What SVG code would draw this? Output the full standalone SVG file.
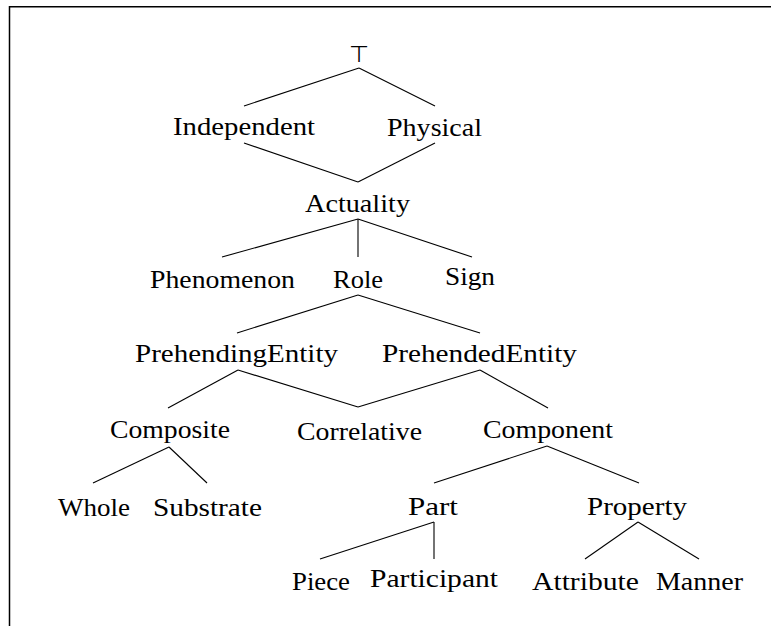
<svg xmlns="http://www.w3.org/2000/svg" width="771" height="626" viewBox="0 0 771 626">
<style>
.t{font-family:"Liberation Serif","DejaVu Serif",serif;font-size:25px;fill:#000;text-anchor:middle}
.c line{stroke:#000;stroke-width:1.1;fill:none}
.frame{stroke:#000;stroke-width:1.5;fill:none}
</style>
<rect width="771" height="626" fill="#fff"/>
<path class="frame" d="M9.5,626 V6.7 H771"/>
<g class="c" id="connectors">
<line x1="359" y1="68" x2="244" y2="106"/>
<line x1="359" y1="68" x2="435" y2="106"/>
<line x1="244" y1="143" x2="358" y2="182"/>
<line x1="435" y1="143" x2="358" y2="182"/>
<line x1="358" y1="219" x2="222" y2="257"/>
<line x1="358" y1="219" x2="358" y2="257"/>
<line x1="358" y1="219" x2="472" y2="257"/>
<line x1="358" y1="295" x2="237" y2="333"/>
<line x1="358" y1="295" x2="480" y2="333"/>
<line x1="238" y1="370" x2="168" y2="408"/>
<line x1="238" y1="370" x2="358" y2="407"/>
<line x1="480" y1="370" x2="358" y2="407"/>
<line x1="480" y1="370" x2="548" y2="408"/>
<line x1="169" y1="447" x2="93" y2="483"/>
<line x1="169" y1="447" x2="207" y2="483"/>
<line x1="547" y1="446" x2="434" y2="483"/>
<line x1="547" y1="446" x2="639" y2="483"/>
<line x1="434" y1="522" x2="320" y2="559"/>
<line x1="434" y1="522" x2="434" y2="559"/>
<line x1="638" y1="522" x2="585" y2="559"/>
<line x1="638" y1="522" x2="699" y2="559"/>
</g>
<g id="top"><text x="359" y="62" font-family="DejaVu Sans, sans-serif" font-size="23" text-anchor="middle">⊤</text></g>
<g id="independent"><text class="t" x="244" y="135" textLength="142" lengthAdjust="spacingAndGlyphs">Independent</text></g>
<g id="physical"><text class="t" x="434.5" y="136" textLength="95" lengthAdjust="spacingAndGlyphs">Physical</text></g>
<g id="actuality"><text class="t" x="357.5" y="212" textLength="105" lengthAdjust="spacingAndGlyphs">Actuality</text></g>
<g id="phenomenon"><text class="t" x="222.5" y="288" textLength="145" lengthAdjust="spacingAndGlyphs">Phenomenon</text></g>
<g id="role"><text class="t" x="358" y="288" textLength="50" lengthAdjust="spacingAndGlyphs">Role</text></g>
<g id="sign"><text class="t" x="470" y="285" textLength="50" lengthAdjust="spacingAndGlyphs">Sign</text></g>
<g id="prehendingentity"><text class="t" x="236.5" y="362" textLength="203" lengthAdjust="spacingAndGlyphs">PrehendingEntity</text></g>
<g id="prehendedentity"><text class="t" x="479.5" y="362" textLength="195" lengthAdjust="spacingAndGlyphs">PrehendedEntity</text></g>
<g id="composite"><text class="t" x="170" y="438" textLength="120" lengthAdjust="spacingAndGlyphs">Composite</text></g>
<g id="correlative"><text class="t" x="359.5" y="440" textLength="125" lengthAdjust="spacingAndGlyphs">Correlative</text></g>
<g id="component"><text class="t" x="548" y="438" textLength="130" lengthAdjust="spacingAndGlyphs">Component</text></g>
<g id="whole"><text class="t" x="94" y="516" textLength="72" lengthAdjust="spacingAndGlyphs">Whole</text></g>
<g id="substrate"><text class="t" x="207.5" y="516" textLength="109" lengthAdjust="spacingAndGlyphs">Substrate</text></g>
<g id="part"><text class="t" x="433" y="515" textLength="50" lengthAdjust="spacingAndGlyphs">Part</text></g>
<g id="property"><text class="t" x="637" y="515" textLength="100" lengthAdjust="spacingAndGlyphs">Property</text></g>
<g id="piece"><text class="t" x="321" y="590" textLength="58" lengthAdjust="spacingAndGlyphs">Piece</text></g>
<g id="participant"><text class="t" x="434" y="587" textLength="128" lengthAdjust="spacingAndGlyphs">Participant</text></g>
<g id="attribute"><text class="t" x="585.5" y="590" textLength="107" lengthAdjust="spacingAndGlyphs">Attribute</text></g>
<g id="manner"><text class="t" x="699.5" y="590" textLength="87" lengthAdjust="spacingAndGlyphs">Manner</text></g>
</svg>
